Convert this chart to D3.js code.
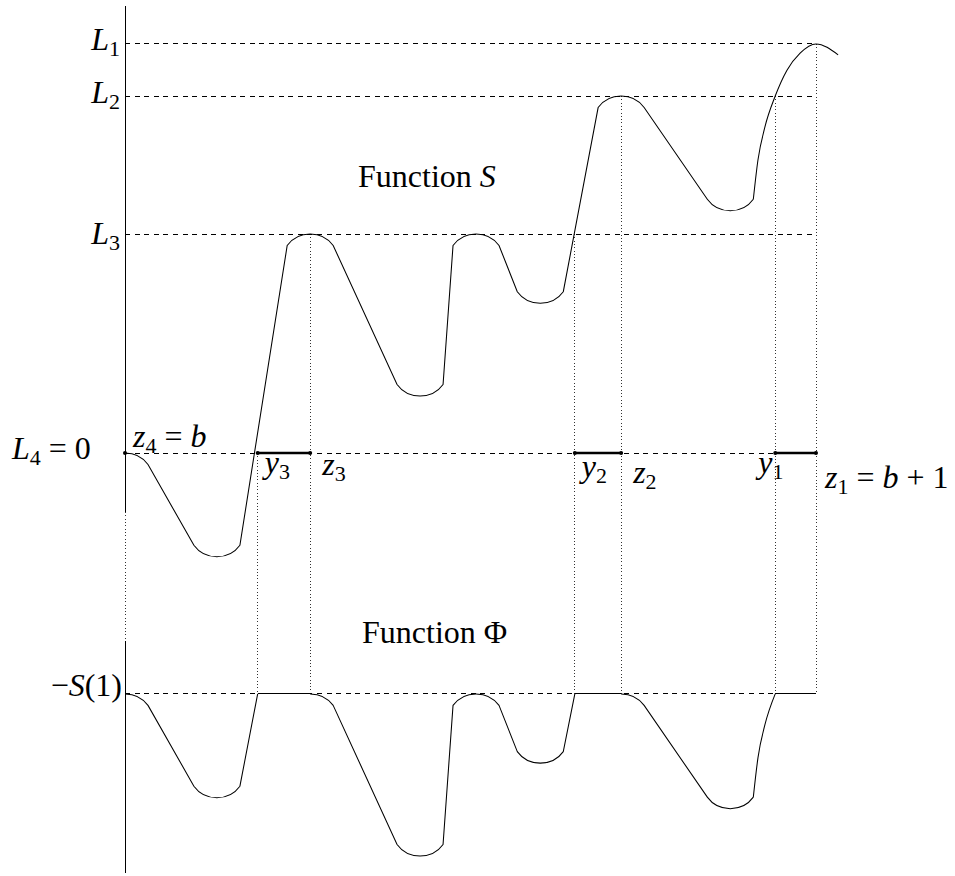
<!DOCTYPE html>
<html>
<head>
<meta charset="utf-8">
<script src="https://cdn.jsdelivr.net/npm/d3@7"></script>
<style>
  body { margin: 0; background: #fff; }
  svg { display: block; }
  text { font-family: "Liberation Serif", "Times New Roman", serif; font-size: 32px; fill: #000; }
  .curve { fill: none; stroke: #000; stroke-width: 1.05; }
  .dashed { stroke: #000; stroke-width: 1; stroke-dasharray: 5 4.6; shape-rendering: crispEdges; }
  .dotted { stroke: #000; stroke-width: 1; stroke-dasharray: 1 2.3; shape-rendering: crispEdges; opacity: 0.8; }
  .axis { stroke: #000; stroke-width: 1; shape-rendering: crispEdges; }
  .flat { stroke: #000; stroke-width: 1; shape-rendering: crispEdges; }
  .interval { stroke: #000; stroke-width: 2.4; }
</style>
</head>
<body>
<svg id="chart"></svg>
<script>

		// levels of S (y units, L4 = 0)
		var levelNames = ["L1", "L2", "L3", "L4"];
		var levelValues = [9.34, 8.15, 5, 0];
		var sOne = 5.5;   // Φ is drawn from the level −S(1)

		// points on [b, b+1], b = 0
		var pointNames = ["z4", "y3", "z3", "y2", "z2", "y1", "z1"];
		var pointValues = [0, 0.192, 0.268, 0.651, 0.718, 0.941, 1];
		// level each dotted drop starts from (index into levelValues)
		var dropFrom = [null, 3, 2, 2, 1, 1, 0];

		// S : turning points joined by straight lines, then the last smooth climb
		var sTurns = [[0, 0], [0.133, -2.37], [0.268, 5], [0.427, 1.30], [0.508, 5],
		              [0.601, 3.42], [0.718, 8.15], [0.876, 5.53]];
		var sTail = [[0.916, 6.69], [0.926, 7.44], [0.941, 8.15], [0.958, 8.74],
		             [0.977, 9.13], [1, 9.34], [1.032, 9.09]];

		// Φ : three pieces, flat in between
		var phiTurns1 = [[0, 0], [0.133, -2.37]];
		var phiTail1 = [[0.192, 0]];
		var phiTurns2 = [[0.268, 0], [0.427, -3.70], [0.508, 0], [0.601, -1.58]];
		var phiTail2 = [[0.651, 0]];
		var phiTurns3 = [[0.718, 0], [0.876, -2.62]];
		var phiTail3 = [[0.916, -1.46], [0.926, -0.71], [0.941, 0]];
		var phiFlats = [[0.192, 0.268], [0.651, 0.718], [0.941, 1]];

		// thick intervals [y_i, z_i] on the zero line
		var intervals = [[0.192, 0.268], [0.651, 0.718], [0.941, 1]];

		var fullwidth = 955;
		var fullheight = 876;

		var svg = d3.select("#chart")
				.attr("width", fullwidth)
				.attr("height", fullheight);

		var x = d3.scaleLinear()
				.domain([0, 1])
				.range([125, 816]);

		var y = d3.scaleLinear()
				.domain([0, 5])
				.range([453, 234]);

		var arcW = 23, arcH = 11.5, arcK = 0.64;

		// lines between rounded extrema, like the tikz drawing
		function turnPath(turns, tail, off) {
			var p = d3.path();
			var pts = turns.map(function(d) { return [x(d[0]), y(d[1] + off)]; });
			var tl = tail.map(function(d) { return [x(d[0]), y(d[1] + off)]; });
			var h = 0;
			pts.forEach(function(d, i) {
				var nb = i < pts.length - 1 ? pts[i + 1] : tl[0];
				h = nb[1] > d[1] ? arcH : -arcH;
				if (i === 0) {
					p.moveTo(d[0], d[1]);
				} else {
					p.lineTo(d[0] - arcW, d[1] + h);
					p.quadraticCurveTo(d[0] - arcW * arcK, d[1], d[0], d[1]);
				}
				p.quadraticCurveTo(d[0] + arcW * arcK, d[1], d[0] + arcW, d[1] + h);
			});
			var last = pts[pts.length - 1];
			if (tl.length === 1) {
				p.lineTo(tl[0][0], tl[0][1]);
			} else {
				d3.line().curve(d3.curveMonotoneX).context(p)([[last[0] + arcW, last[1] + h]].concat(tl));
			}
			return p.toString();
		}

		// dashed levels
		svg.selectAll("line.level")
			.data(levelValues.concat([-sOne]))
			.enter()
			.append("line")
			.attr("class", "dashed")
			.attr("x1", x(0))
			.attr("x2", x(1))
			.attr("y1", function(d) { return y(d); })
			.attr("y2", function(d) { return y(d); });

		// dotted drops down to the Φ level
		svg.selectAll("line.drop")
			.data(pointValues.map(function(d, i) { return { x: d, top: dropFrom[i] }; })
				.filter(function(d) { return d.top !== null; }))
			.enter()
			.append("line")
			.attr("class", "dotted")
			.attr("x1", function(d) { return x(d.x); })
			.attr("x2", function(d) { return x(d.x); })
			.attr("y1", function(d) { return y(levelValues[d.top]); })
			.attr("y2", y(-sOne));

		// vertical axis, broken between the two graphs
		svg.append("line").attr("class", "axis")
			.attr("x1", x(0)).attr("x2", x(0))
			.attr("y1", y(10.2)).attr("y2", y(-1.35));
		svg.append("line").attr("class", "dotted")
			.attr("x1", x(0)).attr("x2", x(0))
			.attr("y1", y(-1.35)).attr("y2", y(-4.3));
		svg.append("line").attr("class", "axis")
			.attr("x1", x(0)).attr("x2", x(0))
			.attr("y1", y(-4.3)).attr("y2", y(-9.6));

		// S
		svg.append("path")
			.attr("class", "curve")
			.attr("d", turnPath(sTurns, sTail, 0));

		// Φ
		[[phiTurns1, phiTail1], [phiTurns2, phiTail2], [phiTurns3, phiTail3]].forEach(function(piece) {
			svg.append("path")
				.attr("class", "curve")
				.attr("d", turnPath(piece[0], piece[1], -sOne));
		});

		svg.selectAll("line.flat")
			.data(phiFlats)
			.enter()
			.append("line")
			.attr("class", "flat")
			.attr("x1", function(d) { return x(d[0]); })
			.attr("x2", function(d) { return x(d[1]); })
			.attr("y1", y(-sOne))
			.attr("y2", y(-sOne));

		// intervals and their end points
		svg.selectAll("line.interval")
			.data(intervals)
			.enter()
			.append("line")
			.attr("class", "interval")
			.attr("x1", function(d) { return x(d[0]); })
			.attr("x2", function(d) { return x(d[1]); })
			.attr("y1", y(0))
			.attr("y2", y(0));

		svg.selectAll("circle")
			.data([0].concat(d3.merge(intervals)))
			.enter()
			.append("circle")
			.attr("cx", function(d) { return x(d); })
			.attr("cy", y(0))
			.attr("r", 2);

		// math labels: parts [text, "i" italic | "s" subscript | "" roman]
		function mathText(px, py, anchor, parts) {
			var t = svg.append("text")
				.attr("x", px)
				.attr("y", py)
				.style("text-anchor", anchor);
			var shift = 0;
			parts.forEach(function(p) {
				var s = t.append("tspan").text(p[0]);
				if (p[1] === "s") {
					s.attr("font-size", "22px").attr("dy", 6 - shift);
					shift = 6;
				} else {
					s.attr("dy", -shift);
					shift = 0;
					if (p[1] === "i") s.style("font-style", "italic");
				}
			});
			return t;
		}

		var levelDy = [6, 7, 10];
		levelNames.slice(0, 3).forEach(function(n, i) {
			mathText(x(0) - 5, y(levelValues[i]) + levelDy[i], "end", [["L", "i"], [n.charAt(1), "s"]]);
		});
		mathText(12, y(0) + 6, "start", [["L", "i"], ["4", "s"], ["\u00a0=\u00a00", ""]]);
		mathText(x(0) - 3, y(-sOne) + 2, "end", [["\u2212", ""], ["S", "i"], ["(1)", ""]]);

		// point labels: offsets from the point
		var labelDx = [8, 7, 12, 7, 12, -17, 9];
		var labelDy = [-6, 20, 22, 24, 30, 20, 35];
		pointNames.forEach(function(n, i) {
			var parts = [[n.charAt(0), "i"], [n.charAt(1), "s"]];
			if (n === "z4") parts = parts.concat([["\u00a0=\u00a0", ""], ["b", "i"]]);
			if (n === "z1") parts = parts.concat([["\u00a0=\u00a0", ""], ["b", "i"], ["\u00a0+\u00a01", ""]]);
			mathText(x(pointValues[i]) + labelDx[i], y(0) + labelDy[i], "start", parts);
		});

		mathText(358, 187, "start", [["Function ", ""], ["S", "i"]]);
		mathText(362, 643, "start", [["Function \u03a6", ""]]);

</script>
</body>
</html>
